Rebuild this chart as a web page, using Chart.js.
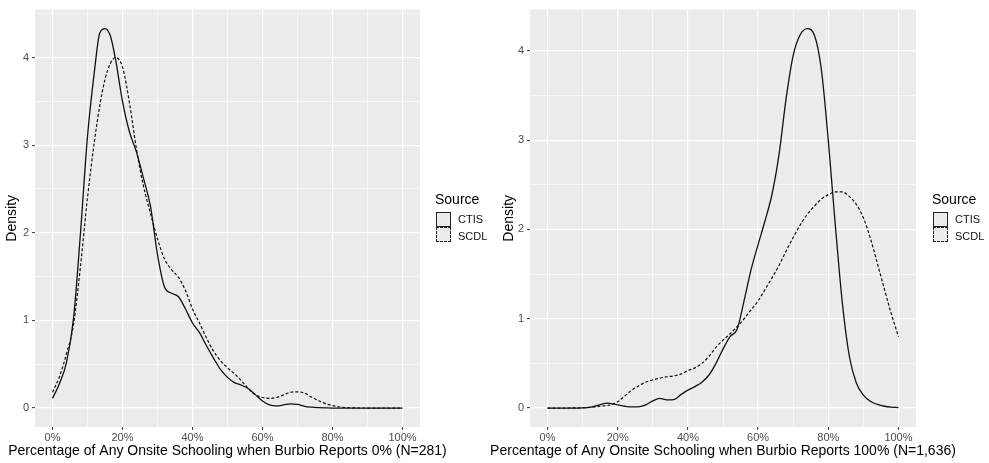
<!DOCTYPE html>
<html>
<head>
<meta charset="utf-8">
<script src="https://cdn.jsdelivr.net/npm/chart.js@4"></script>
<style>
  body { margin: 0; background: #fff; width: 989px; height: 463px; overflow: hidden; position: relative;
         font-family: "Liberation Sans", Arial, sans-serif; }
  canvas { position: absolute; top: 0; }
  #chartA { left: 0; }
  #chartB { left: 480px; }
  .ttl { position: absolute; font-size: 14px; line-height: 14px; color: #000; white-space: nowrap; }
  .lab { position: absolute; font-size: 11px; line-height: 11px; color: #111; white-space: nowrap; }
  .key { position: absolute; width: 15px; height: 15px; box-sizing: border-box; background: #ebebeb; border: 1px solid #222; }
  .key.dash { border-style: dashed; }
</style>
</head>
<body>
<canvas id="chartA" width="480" height="463"></canvas>
<canvas id="chartB" width="509" height="463"></canvas>

<!-- legends -->
<div class="ttl" style="left:435px;top:192px">Source</div>
<div class="key" style="left:436px;top:212px"></div>
<div class="key dash" style="left:436px;top:227px"></div>
<div class="lab" style="left:458px;top:214px">CTIS</div>
<div class="lab" style="left:458px;top:231px">SCDL</div>

<div class="ttl" style="left:932px;top:192px">Source</div>
<div class="key" style="left:933px;top:212px"></div>
<div class="key dash" style="left:933px;top:227px"></div>
<div class="lab" style="left:955px;top:214px">CTIS</div>
<div class="lab" style="left:955px;top:231px">SCDL</div>

<script>
// ticks
const pctTicks = [0, 10, 20, 30, 40, 50, 60, 70, 80, 90, 100];
const pctLabels = ['0%', '20%', '40%', '60%', '80%', '100%'];
const densTicks = [0, 0.5, 1, 1.5, 2, 2.5, 3, 3.5, 4, 4.5];
const densLabels = ['0', '1', '2', '3', '4'];
const seriesNames = ['CTIS', 'SCDL'];

// left panel: Burbio 0%
const xLeft = [0, 2, 4, 6, 8, 10, 12, 13.5, 15, 16.5, 18, 20, 22, 24, 26, 28, 30, 32, 34, 36,
  38, 40, 42, 44, 46, 48, 50, 52, 54, 56, 58, 60, 62, 64, 66, 68, 70, 72, 74, 76,
  78, 80, 82, 84, 86, 90, 95, 100];
const ctisLeft = [0.11, 0.28, 0.52, 1.02, 2.0, 3.1, 3.85, 4.28, 4.33, 4.25, 3.98, 3.5, 3.15, 2.92, 2.62, 2.3, 1.75, 1.38, 1.31, 1.27,
  1.13, 0.97, 0.86, 0.71, 0.57, 0.44, 0.35, 0.29, 0.26, 0.22, 0.15, 0.08, 0.035, 0.025, 0.035, 0.048, 0.042, 0.02, 0.01, 0.005,
  0.002, 0, 0, 0, 0, 0, 0, 0];
const scdlLeft = [0.18, 0.36, 0.62, 0.95, 1.62, 2.4, 3.05, 3.45, 3.75, 3.93, 4.0, 3.89, 3.48, 2.95, 2.53, 2.22, 1.93, 1.70, 1.58, 1.49,
  1.34, 1.13, 0.97, 0.80, 0.65, 0.54, 0.46, 0.39, 0.31, 0.22, 0.15, 0.12, 0.11, 0.12, 0.15, 0.18, 0.185, 0.17, 0.125, 0.085,
  0.05, 0.028, 0.012, 0.005, 0.002, 0, 0, 0];

// right panel: Burbio 100%
const xRight = [0, 4, 8, 10, 12, 14, 16, 17, 18, 20, 22, 24, 26, 28, 30, 32, 34, 36, 38, 40,
  42, 44, 46, 48, 50, 52, 54, 56, 58, 60, 62, 64, 66, 68, 70, 72, 74, 76, 78, 80,
  82, 84, 86, 88, 90, 92, 94, 96, 98, 100];
const ctisRight = [0, 0, 0, 0.002, 0.007, 0.026, 0.05, 0.055, 0.05, 0.035, 0.02, 0.012, 0.014, 0.035, 0.08, 0.107, 0.092, 0.095, 0.15, 0.2,
  0.24, 0.29, 0.37, 0.5, 0.66, 0.8, 0.88, 1.2, 1.55, 1.83, 2.1, 2.4, 2.85, 3.47, 3.95, 4.18, 4.25, 4.18, 3.8, 3.0,
  2.05, 1.18, 0.58, 0.28, 0.145, 0.075, 0.04, 0.02, 0.01, 0.005];
const scdlRight = [0, 0, 0.002, 0.004, 0.008, 0.015, 0.024, 0.028, 0.035, 0.07, 0.135, 0.2, 0.25, 0.29, 0.315, 0.335, 0.35, 0.36, 0.38, 0.42,
  0.45, 0.5, 0.58, 0.68, 0.76, 0.83, 0.91, 1.0, 1.1, 1.2, 1.33, 1.46, 1.6, 1.76, 1.91, 2.05, 2.17, 2.26, 2.34, 2.39,
  2.42, 2.42, 2.37, 2.28, 2.13, 1.9, 1.62, 1.33, 1.05, 0.8];

const FONT = '"Liberation Sans", Arial, sans-serif';

// grey panel like ggplot
const panelBg = {
  id: 'panelBg',
  beforeDraw(chart) {
    const { ctx, chartArea: a } = chart;
    ctx.save();
    ctx.fillStyle = '#ebebeb';
    ctx.fillRect(a.left, a.top, a.right - a.left, a.bottom - a.top);
    ctx.restore();
  }
};

// x title drawn by hand: the built-in one gets squeezed to the axis width
const xTitle = {
  id: 'xTitle',
  afterDraw(chart, args, opts) {
    const { ctx, chartArea: a } = chart;
    ctx.save();
    ctx.font = '14px ' + FONT;
    ctx.fillStyle = '#000';
    ctx.textAlign = 'center';
    ctx.textBaseline = 'middle';
    ctx.fillText(opts.text, (a.left + a.right) / 2, 451);
    ctx.restore();
  }
};

function pts(xs, ys) {
  return xs.map((x, i) => ({ x: x, y: ys[i] }));
}

function makeChart(id, xs, ctis, scdl, title, pad, yWidth) {
  const peak = Math.max(...ctis, ...scdl);
  const yMin = -0.05 * peak, yMax = 1.05 * peak;
  return new Chart(document.getElementById(id), {
    type: 'line',
    data: {
      datasets: [
        { label: seriesNames[0], data: pts(xs, ctis), borderColor: '#111', borderWidth: 1.3,
          pointRadius: 0, fill: false, cubicInterpolationMode: 'monotone' },
        { label: seriesNames[1], data: pts(xs, scdl), borderColor: '#111', borderWidth: 1.2,
          borderDash: [3, 2], pointRadius: 0, fill: false, cubicInterpolationMode: 'monotone' }
      ]
    },
    options: {
      responsive: false,
      animation: false,
      layout: { padding: pad },
      plugins: { legend: { display: false }, tooltip: { enabled: false }, xTitle: { text: title } },
      scales: {
        x: {
          type: 'linear', min: -5, max: 105,
          afterBuildTicks: s => { s.ticks = pctTicks.map(v => ({ value: v })); },
          afterFit: s => { s.height = 36; },
          border: { display: false },
          grid: {
            color: '#fff',
            lineWidth: c => (c.tick && c.tick.value % 20 === 0) ? 1.2 : 0.6,
            tickLength: 3,
            tickWidth: 1,
            tickColor: c => (c.tick && c.tick.value % 20 === 0) ? '#333' : 'rgba(0,0,0,0)'
          },
          ticks: {
            color: '#4d4d4d', font: { size: 11, family: FONT }, padding: 1,
            maxRotation: 0, autoSkip: false,
            callback: v => v % 20 === 0 ? pctLabels[v / 20] : ''
          }
        },
        y: {
          min: yMin, max: yMax,
          afterBuildTicks: s => { s.ticks = densTicks.filter(v => v <= s.max).map(v => ({ value: v })); },
          afterFit: s => { s.width = yWidth; },
          border: { display: false },
          grid: {
            color: '#fff',
            lineWidth: c => (c.tick && Number.isInteger(c.tick.value)) ? 1.2 : 0.6,
            tickLength: 3,
            tickWidth: 1,
            tickColor: c => (c.tick && Number.isInteger(c.tick.value)) ? '#333' : 'rgba(0,0,0,0)'
          },
          ticks: {
            color: '#4d4d4d', font: { size: 11, family: FONT }, padding: 3, autoSkip: false,
            callback: v => Number.isInteger(v) ? densLabels[v] : ''
          },
          title: { display: true, text: 'Density', color: '#000', font: { size: 14, family: FONT },
                   padding: { top: 4, bottom: 0 } }
        }
      }
    },
    plugins: [panelBg, xTitle]
  });
}

makeChart('chartA', xLeft, ctisLeft, scdlLeft,
  'Percentage of Any Onsite Schooling when Burbio Reports 0% (N=281)',
  { top: 7, left: 0, right: 60, bottom: 0 }, 35);
makeChart('chartB', xRight, ctisRight, scdlRight,
  'Percentage of Any Onsite Schooling when Burbio Reports 100% (N=1,636)',
  { top: 7, left: 17, right: 73, bottom: 0 }, 33);
</script>
</body>
</html>
